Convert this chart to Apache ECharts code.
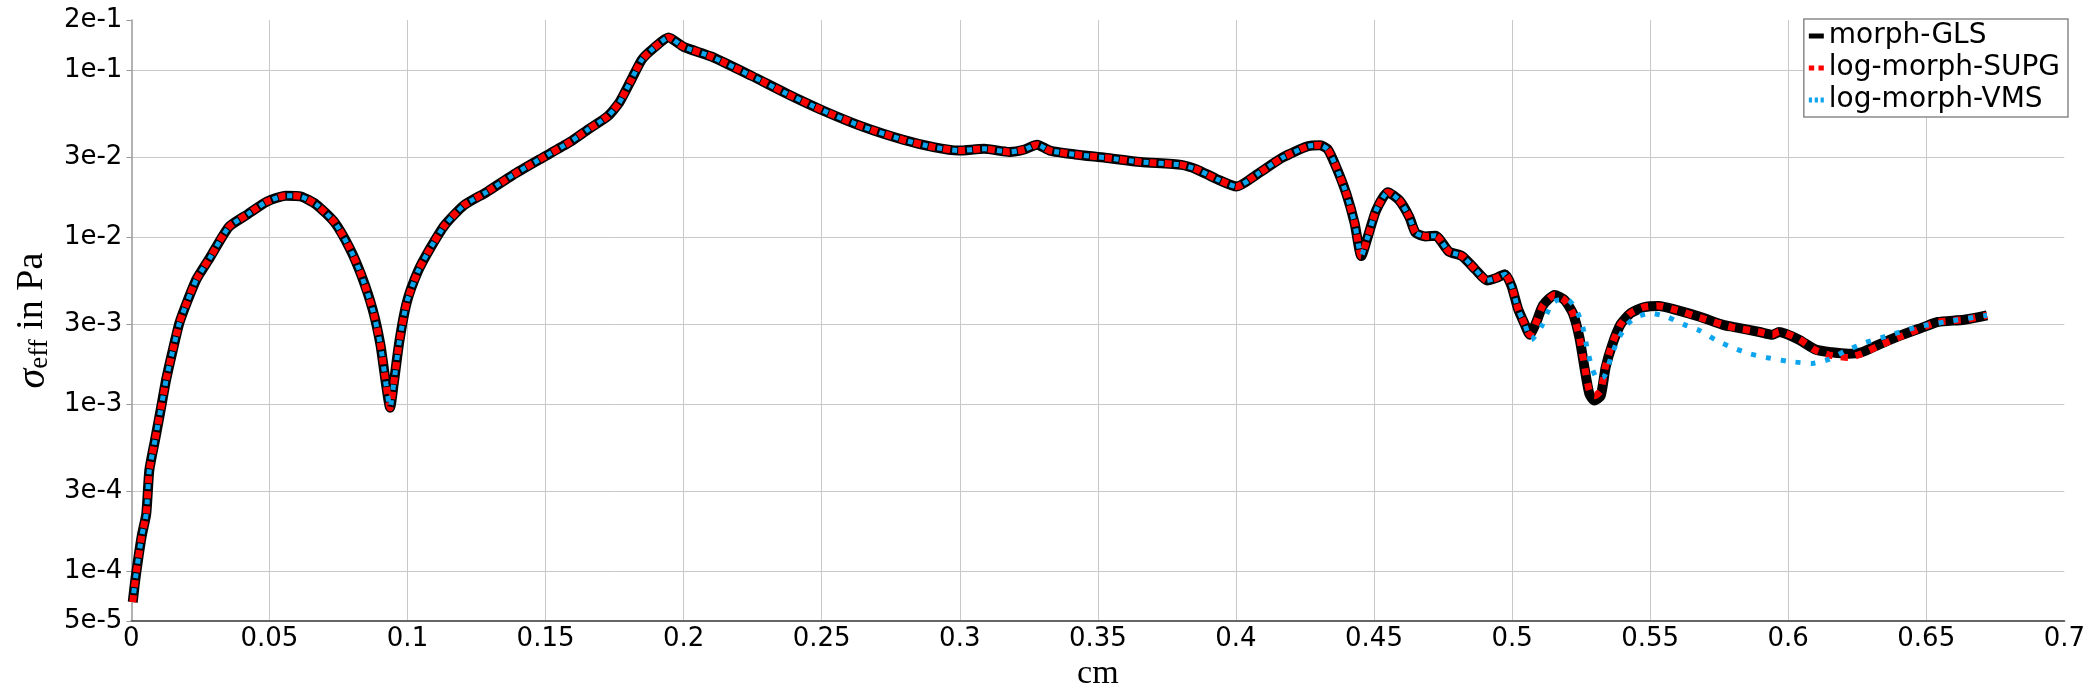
<!DOCTYPE html>
<html>
<head>
<meta charset="utf-8">
<script src="https://cdn.jsdelivr.net/npm/echarts@6/dist/echarts.min.js"></script>
<style>
html,body{margin:0;padding:0;background:#fff;}
#chart{width:2088px;height:696px;}
</style>
</head>
<body>
<div id="chart"></div>
<script>
// ---- data ----
const seriesNames = ['morph-GLS', 'log-morph-SUPG', 'log-morph-VMS'];
const yTicks = [5e-5, 1e-4, 3e-4, 1e-3, 3e-3, 1e-2, 3e-2, 1e-1, 2e-1];

// part shared by all three runs (x in cm, sigma in Pa)
const xCommon = [0.0005,0.0016,0.0037,0.0054,0.0065,0.0085,0.0106,0.0126,0.0147,0.0174,0.0202,0.0236,0.0284,0.0353,0.0421,0.049,0.0559,0.0614,0.0669,0.0737,0.0792,0.0833,0.0874,0.0902,0.0922,0.0937,0.095,0.0971,0.0998,0.1039,0.1081,0.1135,0.1204,0.1286,0.1382,0.1478,0.1588,0.1656,0.1725,0.1767,0.1808,0.1849,0.189,0.1945,0.2,0.2099,0.2246,0.2374,0.2502,0.2648,0.2795,0.2905,0.2996,0.3088,0.318,0.3234,0.328,0.3326,0.3417,0.3527,0.3655,0.3802,0.3857,0.393,0.4003,0.4077,0.4168,0.426,0.4305,0.4333,0.4364,0.44,0.443,0.4454,0.4478,0.4508,0.455,0.4592,0.4628,0.4651,0.4687,0.4723,0.4771,0.4819,0.4867,0.4909,0.4944,0.4974,0.4998,0.5022,0.5046];
const yCommon = [6.5e-5,9.3e-5,1.6e-4,2.2e-4,4.0e-4,6.0e-4,9.2e-4,1.4e-3,2.0e-3,3.06e-3,4.1e-3,5.6e-3,7.5e-3,1.15e-2,1.37e-2,1.63e-2,1.77e-2,1.75e-2,1.57e-2,1.22e-2,8.5e-3,5.9e-3,3.67e-3,2.26e-3,1.32e-3,9.5e-4,1.32e-3,2.4e-3,4.1e-3,6.3e-3,8.5e-3,1.18e-2,1.55e-2,1.86e-2,2.36e-2,2.92e-2,3.71e-2,4.44e-2,5.3e-2,6.4e-2,8.6e-2,1.16e-1,1.35e-1,1.57e-1,1.38e-1,1.21e-1,9.25e-2,7.23e-2,5.76e-2,4.59e-2,3.83e-2,3.46e-2,3.3e-2,3.38e-2,3.24e-2,3.35e-2,3.58e-2,3.3e-2,3.13e-2,2.99e-2,2.82e-2,2.71e-2,2.55e-2,2.23e-2,2.01e-2,2.38e-2,2.99e-2,3.5e-2,3.55e-2,3.35e-2,2.61e-2,1.82e-2,1.21e-2,7.7e-3,1.01e-2,1.45e-2,1.86e-2,1.66e-2,1.32e-2,1.06e-2,1.01e-2,1.02e-2,8.2e-3,7.7e-3,6.4e-3,5.5e-3,5.7e-3,6.0e-3,5.1e-3,3.7e-3,3.0e-3];

// tails where the runs separate
const xTailGLS = [0.5064,0.5088,0.5112,0.5154,0.519,0.522,0.5244,0.5262,0.528,0.5298,0.5321,0.5339,0.5363,0.5393,0.5429,0.5477,0.5531,0.5597,0.568,0.5764,0.58,0.5896,0.5943,0.5967,0.6039,0.6099,0.6158,0.6218,0.6266,0.6326,0.6398,0.6493,0.6541,0.6637,0.672];
const yTailGLS = [2.6e-3,3.1e-3,3.9e-3,4.5e-3,4.2e-3,3.5e-3,2.5e-3,1.66e-3,1.15e-3,1.05e-3,1.12e-3,1.66e-3,2.27e-3,3.0e-3,3.5e-3,3.8e-3,3.87e-3,3.65e-3,3.33e-3,2.98e-3,2.9e-3,2.7e-3,2.6e-3,2.7e-3,2.43e-3,2.12e-3,2.04e-3,2.0e-3,2.04e-3,2.26e-3,2.54e-3,2.9e-3,3.1e-3,3.2e-3,3.4e-3];
const xTailSUPG = [0.5064,0.5088,0.5112,0.5154,0.519,0.522,0.5244,0.5262,0.528,0.5298,0.5321,0.5339,0.5363,0.5393,0.5429,0.5477,0.5531,0.5597,0.568,0.5764,0.58,0.5896,0.5943,0.5967,0.6039,0.6099,0.6158,0.6218,0.6266,0.6326,0.6398,0.6493,0.6541,0.6637,0.672];
const yTailSUPG = [2.6e-3,3.1e-3,3.9e-3,4.5e-3,4.2e-3,3.5e-3,2.5e-3,1.7e-3,1.2e-3,1.12e-3,1.2e-3,1.7e-3,2.3e-3,3.0e-3,3.5e-3,3.8e-3,3.87e-3,3.65e-3,3.3e-3,2.98e-3,2.88e-3,2.7e-3,2.6e-3,2.72e-3,2.45e-3,2.1e-3,1.95e-3,1.9e-3,2.0e-3,2.22e-3,2.5e-3,2.9e-3,3.1e-3,3.2e-3,3.4e-3];
const xTailVMS = [0.507,0.5106,0.514,0.5166,0.5202,0.5232,0.5256,0.5274,0.5292,0.531,0.5334,0.5358,0.5382,0.5417,0.5453,0.5501,0.5561,0.5621,0.568,0.574,0.58,0.586,0.592,0.6003,0.6087,0.6147,0.6206,0.6278,0.6374,0.6469,0.6565,0.672];
const yTailVMS = [2.43e-3,2.9e-3,3.9e-3,4.2e-3,4.2e-3,3.7e-3,2.9e-3,2.07e-3,1.6e-3,1.41e-3,1.46e-3,1.9e-3,2.4e-3,3.0e-3,3.33e-3,3.5e-3,3.33e-3,3.0e-3,2.75e-3,2.4e-3,2.17e-3,2.0e-3,1.9e-3,1.8e-3,1.75e-3,1.85e-3,2.07e-3,2.33e-3,2.6e-3,2.9e-3,3.1e-3,3.4e-3];

// ---- build ----
function pairs(xs, ys) { return xs.map((x, i) => [x, ys[i]]); }
const common = pairs(xCommon, yCommon);
const dataGLS = common.concat(pairs(xTailGLS, yTailGLS));
const dataSUPG = common.concat(pairs(xTailSUPG, yTailSUPG));
const dataVMS = common.concat(pairs(xTailVMS, yTailVMS));

const colGLS = '#000000', colSUPG = '#ff0000', colVMS = '#0ea5ef';
const tickFont = 'DejaVu Sans';
const chart = echarts.init(document.getElementById('chart'), null, {renderer: 'canvas'});
chart.setOption({
  backgroundColor: '#ffffff',
  animation: false,
  grid: {left: 117, right: 20, top: 20, bottom: 64, containLabel: false},
  legend: {
    orient: 'vertical',
    right: 20, top: 19,
    backgroundColor: '#ffffff',
    borderColor: '#8a8a8a', borderWidth: 1.5,
    padding: [3, 8, 3, 5],
    itemGap: 4,
    itemWidth: 15, itemHeight: 5,
    symbolKeepAspect: false,
    itemStyle: {borderWidth: 0},
    textStyle: {fontFamily: tickFont, fontSize: 28, color: '#000', lineHeight: 28},
    data: [
      {name: seriesNames[0], icon: 'rect', itemStyle: {color: colGLS, borderWidth: 0}},
      {name: seriesNames[1], icon: 'path://M0,0h5v5h-5z M9,0h5v5h-5z', itemStyle: {color: colSUPG, borderWidth: 0}},
      {name: seriesNames[2], icon: 'path://M0,0h3v5h-3z M5.5,0h3v5h-3z M11,0h3v5h-3z', itemStyle: {color: colVMS, borderWidth: 0}}
    ]
  },
  xAxis: {
    type: 'value', min: 0, max: 0.7, interval: 0.05,
    name: 'cm', nameLocation: 'middle', nameGap: 32,
    nameTextStyle: {fontFamily: 'Liberation Serif', fontSize: 34, color: '#000', lineHeight: 34},
    axisLine: {show: true, onZero: false, lineStyle: {color: '#666', width: 2}},
    axisTick: {show: false},
    axisLabel: {fontFamily: tickFont, fontSize: 26, color: '#000', margin: 5,
      formatter: v => String(+v.toFixed(2))},
    splitLine: {show: true, showMinLine: false, showMaxLine: false, lineStyle: {color: '#c8c8c8', width: 1}}
  },
  yAxis: {
    type: 'log', logBase: 10, min: 5e-5, max: 0.2,
    name: '{s|σ}{sub|eff}{t| in Pa}', nameLocation: 'middle', nameGap: 72, nameRotate: 90,
    nameTextStyle: {
      color: '#000',
      rich: {
        s: {fontFamily: 'Liberation Serif', fontStyle: 'italic', fontSize: 40, lineHeight: 40, verticalAlign: 'top'},
        sub: {fontFamily: 'Liberation Serif', fontSize: 27, lineHeight: 27, padding: [18, 0, 0, 0], verticalAlign: 'bottom'},
        t: {fontFamily: 'Liberation Serif', fontSize: 38, lineHeight: 40, verticalAlign: 'top'}
      }
    },
    axisLine: {show: true, lineStyle: {color: '#999', width: 1.5}},
    axisTick: {show: true, customValues: yTicks, length: 5, lineStyle: {color: '#999'}},
    axisLabel: {fontFamily: tickFont, fontSize: 26, color: '#000', margin: 9,
      customValues: yTicks,
      formatter: v => Number(v).toExponential(0).replace('e+', 'e')},
    splitLine: {show: true, showMinLine: false, showMaxLine: false, lineStyle: {color: '#c8c8c8', width: 1}}
  },
  series: [
    {name: seriesNames[0], type: 'line', data: dataGLS, symbol: 'none', smooth: 0.2, z: 2,
      lineStyle: {color: colGLS, width: 10}, itemStyle: {color: colGLS}},
    {name: seriesNames[1], type: 'line', data: dataSUPG, symbol: 'none', smooth: 0.2, z: 3,
      lineStyle: {color: colSUPG, width: 7, type: [7, 8]}, itemStyle: {color: colSUPG}},
    {name: seriesNames[2], type: 'line', data: dataVMS, symbol: 'none', smooth: 0.2, z: 4,
      lineStyle: {color: colVMS, width: 5, type: [5, 10], dashOffset: 6}, itemStyle: {color: colVMS}}
  ]
});
</script>
</body>
</html>
